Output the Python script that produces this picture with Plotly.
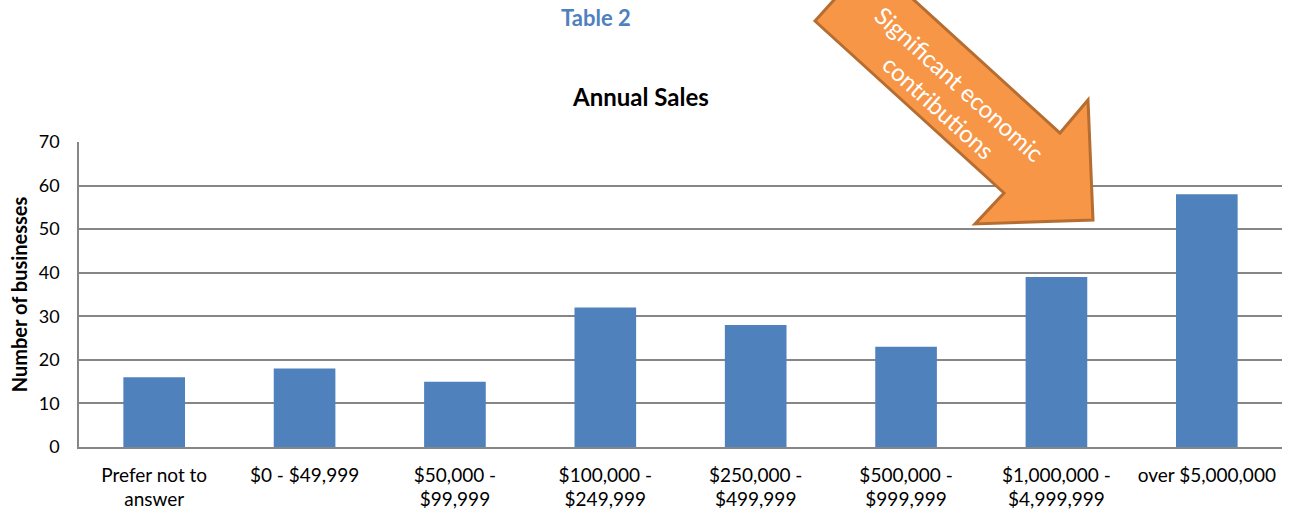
import plotly.graph_objects as go

categories = [
    "Prefer not to<br>answer",
    "$0 - $49,999",
    "$50,000 -<br>$99,999",
    "$100,000 -<br>$249,999",
    "$250,000 -<br>$499,999",
    "$500,000 -<br>$999,999",
    "$1,000,000 -<br>$4,999,999",
    "over $5,000,000",
]
businesses = [16, 18, 15, 32, 28, 23, 39, 58]
y_ticks = [0, 10, 20, 30, 40, 50, 60, 70]

W, H = 1292, 514
L, R, T, B = 79, 10, 142, 67
PW, PH = W - L - R, H - T - B

FONT = "Lato, 'Open Sans', sans-serif"
GRID = "#868686"


def px(x):
    return (x - L) / PW


def py(y):
    return (H - B - y) / PH


fig = go.Figure(
    go.Bar(
        x=categories,
        y=businesses,
        marker=dict(color="#4F81BD", line=dict(width=0)),
    )
)

# decorative arrow (paper coordinates derived from pixel layout)
arrow_pts = [(815, 21), (870, -40), (1060, 133), (1088, 100), (1093, 220), (975, 224), (1004, 193)]
path = "M " + " L ".join(f"{px(a):.5f},{py(b):.5f}" for a, b in arrow_pts) + " Z"

fig.update_layout(
    width=W,
    height=H,
    margin=dict(l=L, r=R, t=T, b=B, pad=0, autoexpand=False),
    paper_bgcolor="white",
    plot_bgcolor="white",
    showlegend=False,
    bargap=0.59,
    font=dict(family=FONT, size=18, color="#000000"),
    xaxis=dict(
        type="category",
        automargin=False,
        showline=True,
        linecolor=GRID,
        linewidth=1.5,
        showgrid=False,
        ticks="outside",
        ticklen=10,
        tickcolor="rgba(0,0,0,0)",
        tickfont=dict(family=FONT, size=19),
        range=[-0.5, 7.5],
    ),
    yaxis=dict(
        range=[0, 70],
        automargin=False,
        tickvals=y_ticks,
        showline=True,
        linecolor=GRID,
        linewidth=1.5,
        showgrid=True,
        gridcolor=GRID,
        gridwidth=1.5,
        zeroline=False,
        ticks="outside",
        ticklen=14,
        tickcolor="rgba(0,0,0,0)",
        tickfont=dict(family=FONT, size=18),
        title=dict(text="<b>Number of businesses</b>", font=dict(family=FONT, size=20), standoff=6),
    ),
    shapes=[
        dict(
            type="path",
            xref="paper",
            yref="paper",
            path=path,
            fillcolor="#F79646",
            line=dict(color="#B66D31", width=3),
            layer="above",
        )
    ],
    annotations=[
        dict(
            text="<b>Table 2</b>",
            xref="paper", yref="paper",
            x=px(596), y=py(17),
            xanchor="center", yanchor="middle",
            showarrow=False,
            font=dict(family=FONT, size=22, color="#4F81BD"),
        ),
        dict(
            text="<b>Annual Sales</b>",
            xref="paper", yref="paper",
            x=px(640), y=py(96),
            xanchor="center", yanchor="middle",
            showarrow=False,
            font=dict(family=FONT, size=24, color="#000000"),
        ),
        dict(
            text="Significant economic<br>contributions",
            xref="paper", yref="paper",
            x=px(949), y=py(95),
            xanchor="center", yanchor="middle",
            showarrow=False,
            textangle=42,
            font=dict(family=FONT, size=24, color="#FFFFFF"),
        ),
    ],
)

fig.write_html(
    "out.html",
    config={"displayModeBar": False},
    post_script="document.body.style.margin='0';document.body.style.overflow='hidden';",
)
